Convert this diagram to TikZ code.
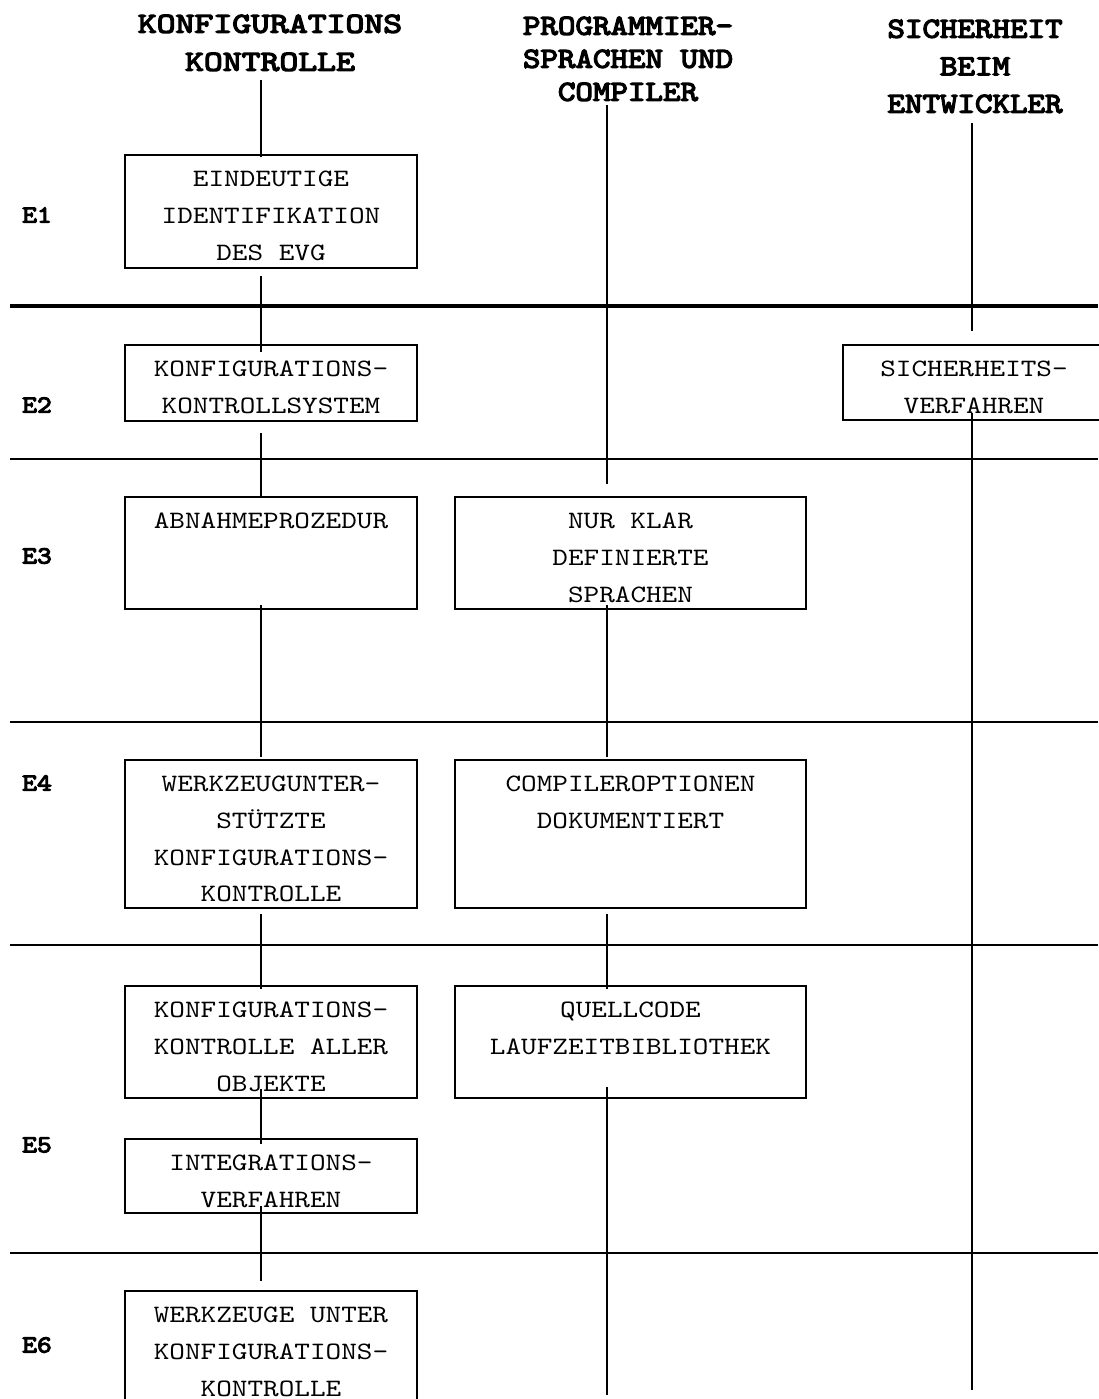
\documentclass[tikz,border=0pt]{standalone}
\usepackage{fontspec}
\usepackage{tikz}
\newfontfamily\courbody{lmmono10-regular.otf}[FakeStretch=1.19]
\newfontfamily\courbold{lmmono10-regular.otf}[FakeStretch=1.15, FakeBold=4.5]
\newfontfamily\courboldwide{lmmono10-regular.otf}[FakeStretch=1.24, FakeBold=4.5]
\newcommand{\boxlines}[3]{\parbox[c][#2][t]{#1}{\centering\courbody\fontsize{25}{36.8}\selectfont\rule{0pt}{31.5pt}#3}}

\begin{document}
\begin{tikzpicture}[x=1pt, y=-1pt,
    box/.style={draw, line width=2.6pt, inner sep=0pt},
    col/.style={line width=1.8pt},
    sep/.style={line width=2.4pt},
    head/.style={font=\courbold\fontsize{29}{#1}\selectfont, align=center, inner sep=0pt, anchor=north},
    lvl/.style={font=\courbold\fontsize{24.5}{30}\selectfont, inner sep=0pt}]
            \useasboundingbox (0,0) rectangle (1098,1399);

            % column headings
            \node[head=38, font=\courboldwide\fontsize{29}{38}\selectfont] (hk) at (270,14.5) {KONFIGURATIONS\\KONTROLLE};
            \node[head=33] (hp) at (628,16.5) {PROGRAMMIER-\\SPRACHEN UND\\COMPILER};
            \node[head=37.5] (hs) at (975,19.5) {SICHERHEIT\\BEIM\\ENTWICKLER};

            % levels
            \node[lvl] (e1) at (37,215) {E1};
            \node[lvl] (e2) at (37,405) {E2};
            \node[lvl] (e3) at (37,556) {E3};
            \node[lvl] (e4) at (37,783) {E4};
            \node[lvl] (e5) at (37,1145) {E5};
            \node[lvl] (e6) at (37,1345) {E6};

            \draw[sep, line width=3.4pt] (10,306) -- (1098,306);
            \foreach \y in {459,722,945,1253}
              \draw[sep] (10,\y) -- (1098,\y);

            % konfigurationskontrolle
            \node[box] (b1) at (271,211.5) {\boxlines{292pt}{113pt}{EINDEUTIGE\\IDENTIFIKATION\\DES EVG}};
            \node[box] (b2) at (271,383) {\boxlines{292pt}{76pt}{KONFIGURATIONS-\\KONTROLLSYSTEM}};
            \node[box] (b3) at (271,553) {\boxlines{292pt}{112pt}{ABNAHMEPROZEDUR}};
            \node[box] (b4) at (271,834) {\boxlines{292pt}{148pt}{WERKZEUGUNTER-\\STÜTZTE\\KONFIGURATIONS-\\KONTROLLE}};
            \node[box] (b5) at (271,1042) {\boxlines{292pt}{112pt}{KONFIGURATIONS-\\KONTROLLE ALLER\\OBJEKTE}};
            \node[box] (b6) at (271,1176) {\boxlines{292pt}{74pt}{INTEGRATIONS-\\VERFAHREN}};
            \node[box] (b7) at (271,1360.5) {\boxlines{292pt}{139pt}{WERKZEUGE UNTER\\KONFIGURATIONS-\\KONTROLLE}};

            % programmiersprachen
            \node[box] (c3) at (630.5,553) {\boxlines{351pt}{112pt}{NUR KLAR\\DEFINIERTE\\SPRACHEN}};
            \node[box] (c4) at (630.5,834) {\boxlines{351pt}{148pt}{COMPILEROPTIONEN\\DOKUMENTIERT}};
            \node[box] (c5) at (630.5,1042) {\boxlines{351pt}{112pt}{QUELLCODE\\LAUFZEITBIBLIOTHEK}};

            % sicherheit
            \node[box] (s2) at (974,382.5) {\boxlines{262pt}{75pt}{SICHERHEITS-\\VERFAHREN}};

            \coordinate (kx) at (261,0);
            \coordinate (px) at (607,0);
            \coordinate (sx) at (972,0);
            \coordinate (kxtop) at (261,80);
            \coordinate (pxtop) at (607,105);
            \coordinate (sxtop) at (972,123);
            \coordinate (pxend) at (607,1395);
            \coordinate (sxend) at (972,1390);

            \draw[col] (kxtop) -- ([yshift=-3pt]b1.north -| kx);
            \draw[col] ([yshift=-7pt]b1.south -| kx) -- ([yshift=-8pt]b2.north -| kx);
            \draw[col] ([yshift=-11pt]b2.south -| kx) -- (b3.north -| kx);
            \draw[col] ([yshift=5pt]b3.south -| kx) -- ([yshift=2pt]b4.north -| kx);
            \draw[col] ([yshift=-5pt]b4.south -| kx) -- ([yshift=-4pt]b5.north -| kx);
            \draw[col] ([yshift=10pt]b5.south -| kx) -- ([yshift=-6pt]b6.north -| kx);
            \draw[col] ([yshift=8pt]b6.south -| kx) -- ([yshift=9pt]b7.north -| kx);

            \draw[col] (pxtop) -- ([yshift=12pt]c3.north -| px);
            \draw[col] ([yshift=5pt]c3.south -| px) -- ([yshift=2pt]c4.north -| px);
            \draw[col] ([yshift=-5pt]c4.south -| px) -- ([yshift=-4pt]c5.north -| px);
            \draw[col] ([yshift=12pt]c5.south -| px) -- (pxend);

            \draw[col] (sxtop) -- ([yshift=13pt]s2.north -| sx);
            \draw[col] ([yshift=8pt]s2.south -| sx) -- (sxend);
\end{tikzpicture}
\end{document}
